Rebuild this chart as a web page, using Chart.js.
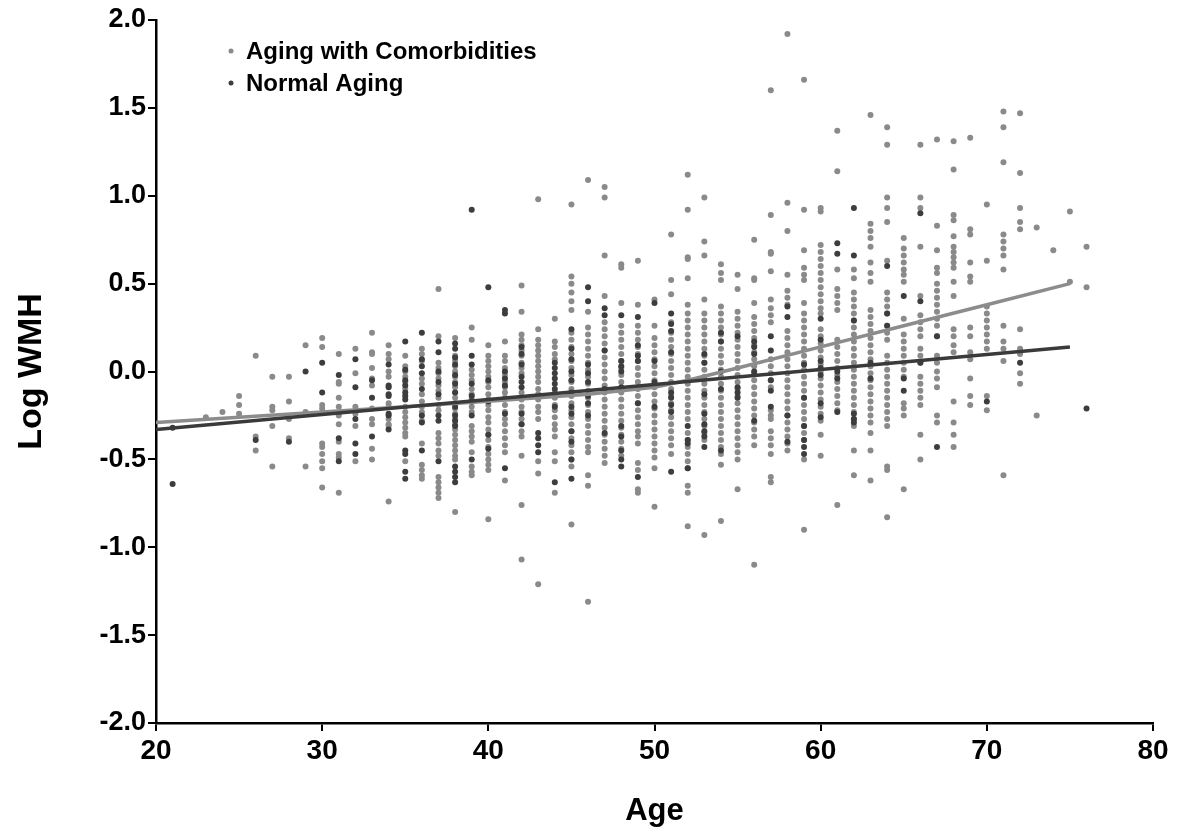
<!DOCTYPE html>
<html>
<head>
<meta charset="utf-8">
<title>Log WMH by Age</title>
<script src="https://cdn.jsdelivr.net/npm/chart.js@4.4.1/dist/chart.umd.min.js"></script>
<style>
    body { margin: 0; background: #fff; }
    canvas { display: block; }
</style>
</head>
<body>
<canvas id="wmhChart" width="1185" height="833"></canvas>
<script>
// Series labels
const seriesLabels = ['Aging with Comorbidities', 'Normal Aging'];

// Axis ticks
const xTicks = [20, 30, 40, 50, 60, 70, 80];
const yTicks = [-2.0, -1.5, -1.0, -0.5, 0.0, 0.5, 1.0, 1.5, 2.0];

// Aging with comorbidities: [age, log WMH values]
const comorbidColumns = [
    [23, [-0.26]],
    [24, [-0.23]],
    [25, [-0.14, -0.19, -0.24]],
    [26, [0.09, -0.37, -0.45]],
    [27, [-0.03, -0.2, -0.22, -0.31, -0.54]],
    [28, [-0.03, -0.17, -0.27, -0.38]],
    [29, [0.15, -0.23, -0.54]],
    [30, [0.19, 0.14, -0.19, -0.21, -0.41, -0.43, -0.47, -0.51, -0.55, -0.66]],
    [31, [0.10, -0.06, -0.07, -0.15, -0.2, -0.25, -0.3, -0.4, -0.47, -0.49, -0.69]],
    [32, [0.13, -0.01, -0.2, -0.24, -0.31, -0.51]],
    [33, [0.22, 0.11, 0.10, 0.02, -0.04, -0.08, -0.21, -0.27, -0.3, -0.44, -0.5]],
    [34, [0.15, 0.10, 0.07, 0.0, -0.03, -0.18, -0.2, -0.27, -0.3, -0.31, -0.74]],
    [35, [0.09, 0.03, 0.0, -0.03, -0.06, -0.1, -0.2, -0.23, -0.26, -0.29, -0.32, -0.35, -0.37, -0.51]],
    [36, [0.13, 0.1, 0.06, -0.04, -0.07, -0.13, -0.17, -0.2, -0.23, -0.28, -0.41, -0.53, -0.56, -0.59, -0.61]],
    [37, [0.47, 0.2, 0.05, 0.02, -0.01, -0.04, -0.08, -0.11, -0.15, -0.19, -0.22, -0.35, -0.38, -0.41, -0.45, -0.48, -0.6, -0.63, -0.66, -0.69, -0.72]],
    [38, [0.19, 0.09, 0.06, 0.03, 0.0, -0.03, -0.06, -0.09, -0.12, -0.15, -0.18, -0.21, -0.24, -0.27, -0.3, -0.33, -0.36, -0.39, -0.42, -0.45, -0.48, -0.5, -0.8]],
    [39, [0.25, 0.18, 0.01, -0.02, -0.05, -0.1, -0.13, -0.16, -0.2, -0.23, -0.31, -0.34, -0.37, -0.4, -0.46, -0.54, -0.57, -0.59]],
    [40, [0.15, 0.09, 0.06, 0.03, 0.0, -0.03, -0.06, -0.09, -0.13, -0.16, -0.19, -0.22, -0.26, -0.29, -0.33, -0.36, -0.39, -0.43, -0.47, -0.5, -0.53, -0.56, -0.84]],
    [41, [0.17, 0.09, 0.06, 0.02, -0.02, -0.06, -0.09, -0.12, -0.15, -0.19, -0.23, -0.27, -0.3, -0.34, -0.38, -0.42, -0.46, -0.62]],
    [42, [0.49, 0.34, 0.21, 0.18, 0.15, 0.12, 0.09, 0.05, 0.02, -0.01, -0.12, -0.16, -0.2, -0.23, -0.27, -0.3, -0.34, -0.37, -0.48, -0.76, -1.07]],
    [43, [0.98, 0.24, 0.18, 0.15, 0.12, 0.09, 0.06, 0.03, 0.0, -0.03, -0.06, -0.1, -0.13, -0.16, -0.2, -0.23, -0.27, -0.51, -0.58, -1.21]],
    [44, [0.3, 0.17, 0.14, 0.1, 0.07, -0.12, -0.15, -0.19, -0.22, -0.26, -0.3, -0.33, -0.37, -0.46, -0.51, -0.69]],
    [45, [0.95, 0.54, 0.5, 0.45, 0.4, 0.35, 0.22, 0.18, 0.14, 0.1, 0.06, 0.02, -0.02, -0.06, -0.1, -0.14, -0.18, -0.22, -0.26, -0.3, -0.34, -0.38, -0.42, -0.46, -0.5, -0.54, -0.87]],
    [46, [1.09, 0.34, 0.25, 0.21, 0.17, 0.13, 0.09, 0.05, 0.01, -0.03, -0.07, -0.11, -0.15, -0.19, -0.23, -0.27, -0.31, -0.35, -0.39, -0.43, -0.46, -0.59, -0.65, -1.31]],
    [47, [1.05, 0.99, 0.66, 0.43, 0.28, 0.24, 0.2, 0.16, 0.12, 0.08, 0.04, 0.0, -0.04, -0.08, -0.12, -0.16, -0.2, -0.24, -0.28, -0.32, -0.36, -0.4, -0.44, -0.48, -0.52]],
    [48, [0.61, 0.59, 0.39, 0.26, 0.22, 0.18, 0.14, 0.1, 0.06, 0.02, -0.02, -0.06, -0.12, -0.16, -0.2, -0.24, -0.28, -0.32, -0.36, -0.4, -0.44, -0.48]],
    [49, [0.63, 0.38, 0.26, 0.22, 0.18, 0.14, 0.1, 0.06, 0.02, -0.02, -0.06, -0.1, -0.14, -0.18, -0.22, -0.26, -0.3, -0.34, -0.37, -0.41, -0.52, -0.56, -0.67, -0.69]],
    [50, [0.41, 0.26, 0.19, 0.15, 0.11, 0.07, 0.03, -0.01, -0.05, -0.09, -0.13, -0.17, -0.21, -0.25, -0.29, -0.33, -0.37, -0.41, -0.45, -0.49, -0.55, -0.77]],
    [51, [0.78, 0.52, 0.44, 0.28, 0.22, 0.18, 0.14, 0.1, 0.06, 0.02, -0.02, -0.06, -0.1, -0.14, -0.18, -0.22, -0.26, -0.3, -0.34, -0.38, -0.42, -0.47]],
    [52, [1.12, 0.92, 0.65, 0.64, 0.53, 0.38, 0.33, 0.29, 0.25, 0.21, 0.17, 0.13, 0.09, 0.05, 0.01, -0.03, -0.07, -0.11, -0.15, -0.19, -0.23, -0.27, -0.35, -0.39, -0.43, -0.47, -0.51, -0.55, -0.65, -0.69, -0.88]],
    [53, [0.99, 0.74, 0.66, 0.41, 0.33, 0.29, 0.25, 0.21, 0.17, 0.13, 0.09, 0.05, 0.01, -0.03, -0.07, -0.11, -0.15, -0.19, -0.23, -0.27, -0.31, -0.35, -0.39, -0.93]],
    [54, [0.61, 0.56, 0.52, 0.37, 0.33, 0.29, 0.25, 0.21, 0.17, 0.13, 0.09, 0.05, 0.01, -0.03, -0.07, -0.11, -0.15, -0.19, -0.23, -0.27, -0.31, -0.35, -0.39, -0.43, -0.47, -0.53, -0.85]],
    [55, [0.55, 0.47, 0.34, 0.3, 0.26, 0.22, 0.18, 0.14, 0.1, 0.06, 0.02, -0.02, -0.06, -0.1, -0.14, -0.18, -0.22, -0.26, -0.3, -0.34, -0.38, -0.42, -0.46, -0.5, -0.67]],
    [56, [0.75, 0.53, 0.52, 0.39, 0.31, 0.27, 0.23, 0.19, 0.15, 0.11, 0.07, 0.03, -0.01, -0.05, -0.09, -0.13, -0.17, -0.21, -0.25, -0.29, -0.33, -0.37, -0.42, -1.1]],
    [57, [1.6, 0.89, 0.68, 0.67, 0.57, 0.41, 0.36, 0.32, 0.28, 0.07, 0.03, -0.01, -0.05, -0.09, -0.22, -0.25, -0.27, -0.34, -0.38, -0.42, -0.47, -0.6, -0.63]],
    [58, [1.92, 0.96, 0.8, 0.55, 0.46, 0.42, 0.38, 0.23, 0.19, 0.15, 0.11, 0.07, 0.03, -0.01, -0.05, -0.09, -0.13, -0.17, -0.21, -0.25, -0.29, -0.33, -0.37, -0.41, -0.45]],
    [59, [1.66, 0.92, 0.69, 0.59, 0.55, 0.52, 0.39, 0.33, 0.29, 0.25, 0.21, 0.17, 0.13, 0.09, 0.05, 0.01, -0.03, -0.07, -0.11, -0.15, -0.19, -0.23, -0.27, -0.31, -0.35, -0.39, -0.5, -0.9]],
    [60, [0.93, 0.91, 0.72, 0.68, 0.64, 0.6, 0.56, 0.52, 0.48, 0.44, 0.4, 0.36, 0.33, 0.24, 0.2, 0.16, 0.12, 0.08, 0.04, 0.0, -0.04, -0.08, -0.12, -0.16, -0.2, -0.24, -0.28, -0.36, -0.48]],
    [61, [1.37, 1.14, 0.58, 0.47, 0.43, 0.39, 0.35, 0.18, 0.14, 0.1, 0.06, 0.02, -0.02, -0.06, -0.1, -0.14, -0.18, -0.22, -0.76]],
    [62, [0.58, 0.53, 0.45, 0.41, 0.37, 0.33, 0.29, 0.25, 0.21, 0.17, 0.13, 0.09, 0.05, 0.01, -0.03, -0.07, -0.11, -0.15, -0.19, -0.23, -0.27, -0.31, -0.45, -0.59]],
    [63, [1.46, 0.84, 0.8, 0.76, 0.71, 0.62, 0.56, 0.51, 0.35, 0.31, 0.27, 0.23, 0.19, 0.15, 0.11, 0.07, 0.03, -0.01, -0.05, -0.09, -0.13, -0.17, -0.21, -0.25, -0.29, -0.35, -0.45, -0.62]],
    [64, [1.39, 1.29, 0.99, 0.93, 0.85, 0.63, 0.45, 0.41, 0.37, 0.33, 0.26, 0.22, 0.18, 0.09, 0.05, 0.01, -0.03, -0.07, -0.11, -0.15, -0.19, -0.23, -0.27, -0.31, -0.54, -0.56, -0.83]],
    [65, [0.76, 0.7, 0.66, 0.62, 0.58, 0.55, 0.51, 0.3, 0.21, 0.17, 0.13, 0.09, 0.05, 0.01, -0.03, -0.18, -0.21, -0.25, -0.67]],
    [66, [1.29, 0.99, 0.93, 0.71, 0.43, 0.32, 0.28, 0.24, 0.2, 0.13, 0.09, 0.05, -0.03, -0.07, -0.11, -0.15, -0.19, -0.36, -0.5]],
    [67, [1.32, 0.83, 0.69, 0.59, 0.56, 0.5, 0.46, 0.42, 0.38, 0.34, 0.3, 0.26, 0.2, 0.09, 0.05, 0.0, -0.04, -0.09, -0.25, -0.29]],
    [68, [1.31, 1.15, 0.89, 0.86, 0.77, 0.71, 0.68, 0.65, 0.62, 0.59, 0.51, 0.43, 0.24, 0.2, 0.15, 0.11, -0.17, -0.29, -0.36, -0.43]],
    [69, [1.33, 0.81, 0.78, 0.62, 0.54, 0.51, 0.25, 0.2, 0.11, 0.07, -0.04, -0.14, -0.19]],
    [70, [0.95, 0.63, 0.37, 0.33, 0.29, 0.25, 0.21, 0.17, 0.13, -0.14, -0.22]],
    [71, [1.48, 1.39, 1.19, 0.78, 0.74, 0.7, 0.66, 0.58, 0.26, 0.17, 0.13, 0.06, -0.59]],
    [72, [1.47, 1.13, 0.93, 0.85, 0.81, 0.24, 0.13, 0.1, -0.01, -0.07]],
    [73, [0.82, -0.25]],
    [74, [0.69]],
    [75, [0.91, 0.51]],
    [76, [0.71, 0.48]]
];

// Normal aging: [age, log WMH values]
const normalColumns = [
    [21, [-0.64, -0.32]],
    [26, [-0.39]],
    [28, [-0.40]],
    [29, [0.0]],
    [30, [0.05, -0.12]],
    [31, [-0.02, -0.38, -0.51]],
    [32, [0.07, -0.09, -0.27, -0.41, -0.47]],
    [33, [-0.05, -0.15, -0.37]],
    [34, [0.04, -0.08, -0.09, -0.13, -0.14, -0.24, -0.25, -0.33]],
    [35, [0.17, 0.01, -0.05, -0.08, -0.12, -0.14, -0.16, -0.45, -0.47, -0.57, -0.61]],
    [36, [0.22, 0.07, 0.03, -0.01, -0.1, -0.25, -0.29, -0.45]],
    [37, [0.17, 0.11, 0.0, -0.06, -0.13, -0.25, -0.28, -0.51]],
    [38, [0.16, 0.13, 0.08, 0.04, -0.02, -0.07, -0.12, -0.2, -0.25, -0.28, -0.31, -0.54, -0.57, -0.6, -0.63]],
    [39, [0.92, 0.09, 0.04, -0.07, -0.14, -0.17, -0.25, -0.5]],
    [40, [0.48, -0.05, -0.17, -0.36, -0.44]],
    [41, [0.35, 0.33, 0.0, -0.04, -0.08, -0.24, -0.55]],
    [42, [0.14, 0.1, 0.04, -0.03, -0.06, -0.09, -0.24, -0.3]],
    [43, [-0.35, -0.38, -0.42, -0.46]],
    [44, [0.05, 0.02, -0.01, -0.04, -0.07, -0.1, -0.2, -0.63]],
    [45, [0.24, 0.13, 0.07, 0.0, -0.05, -0.12, -0.2, -0.24, -0.34, -0.4, -0.5, -0.61]],
    [46, [0.48, 0.4, 0.04, -0.01, -0.06, -0.14, -0.18, -0.25]],
    [47, [0.36, 0.32, 0.12, -0.1, -0.35]],
    [48, [0.32, 0.06, 0.03, 0.0, -0.09, -0.31, -0.37, -0.45, -0.5, -0.54]],
    [49, [0.31, 0.15, 0.09, 0.06, -0.18, -0.6]],
    [50, [0.39, 0.06, -0.06, -0.2]],
    [51, [0.33, 0.27, 0.23, 0.11, -0.12, -0.15, -0.19, -0.23, -0.57]],
    [52, [-0.31, -0.39, -0.41, -0.55]],
    [53, [0.1, 0.05, -0.13, -0.24, -0.3, -0.34, -0.37, -0.43]],
    [54, [0.22, 0.17, 0.0, -0.1, -0.45]],
    [55, [0.2, -0.09, -0.12, -0.15]],
    [56, [0.17, 0.14, 0.1, 0.0, -0.28]],
    [57, [0.2, 0.12, -0.05, -0.11, -0.2]],
    [58, [0.37, 0.31, -0.25, -0.4]],
    [59, [0.04, -0.15, -0.31, -0.39, -0.43, -0.47]],
    [60, [0.3, 0.18, 0.06, 0.02, -0.02, -0.18, -0.26]],
    [61, [0.73, 0.67, 0.0, -0.04, -0.23]],
    [62, [0.93, 0.66, 0.29, -0.24, -0.27, -0.29]],
    [63, [0.05, -0.04]],
    [64, [0.6, 0.33, 0.26]],
    [65, [0.43, -0.04, -0.11]],
    [66, [0.9, 0.4, 0.05]],
    [67, [0.2, -0.43]],
    [70, [-0.17]],
    [72, [0.05]],
    [76, [-0.21]]
];

// Fitted trend lines
const comorbidTrendAges = [20, 30, 40, 46, 50, 52, 55, 60, 65, 70, 75];
const comorbidTrendValues = [-0.29, -0.23, -0.17, -0.13, -0.09, -0.05, 0.02, 0.14, 0.26, 0.38, 0.5];
const normalTrendAges = [20, 75];
const normalTrendValues = [-0.33, 0.14];

const lightGrey = '#8a8a8a';
const darkGrey = '#3d3d3d';
const fontFamily = '"Liberation Sans", Arial, Helvetica, sans-serif';

function toPoints(columns) {
    return columns.flatMap(([age, values]) => values.map(v => ({ x: age, y: v })));
}

function toLine(ages, values) {
    return ages.map((age, i) => ({ x: age, y: values[i] }));
}

// Legend drawn inside the plot area, top-left
const insideLegend = {
    id: 'insideLegend',
    afterDraw(chart) {
        const { ctx, chartArea } = chart;
        ctx.save();
        ctx.font = 'bold 24px ' + fontFamily;
        ctx.textBaseline = 'middle';
        [0, 1].forEach(i => {
            const ds = chart.data.datasets[i];
            const y = chartArea.top + 31 + i * 32;
            ctx.fillStyle = ds.backgroundColor;
            ctx.beginPath();
            ctx.arc(chartArea.left + 75, y, 2.5, 0, Math.PI * 2);
            ctx.fill();
            ctx.fillStyle = '#000';
            ctx.fillText(ds.label, chartArea.left + 90, y + 1);
        });
        ctx.restore();
    }
};

const ctx = document.getElementById('wmhChart').getContext('2d');
const wmhChart = new Chart(ctx, {
    type: 'scatter',
    data: {
        datasets: [
            {
                label: seriesLabels[0],
                data: toPoints(comorbidColumns),
                backgroundColor: lightGrey,
                borderWidth: 0,
                pointRadius: 3,
                order: 3
            },
            {
                label: seriesLabels[1],
                data: toPoints(normalColumns),
                backgroundColor: darkGrey,
                borderWidth: 0,
                pointRadius: 3,
                order: 2
            },
            {
                label: seriesLabels[0] + ' fit',
                data: toLine(comorbidTrendAges, comorbidTrendValues),
                showLine: true,
                borderColor: '#8c8c8c',
                borderWidth: 3.5,
                pointRadius: 0,
                order: 1
            },
            {
                label: seriesLabels[1] + ' fit',
                data: toLine(normalTrendAges, normalTrendValues),
                showLine: true,
                borderColor: '#3a3a3a',
                borderWidth: 3.5,
                pointRadius: 0,
                order: 0
            }
        ]
    },
    options: {
        responsive: false,
        animation: false,
        layout: {
            padding: { top: 20, right: 32, left: 0, bottom: 0 }
        },
        plugins: {
            legend: { display: false },
            tooltip: { enabled: false }
        },
        scales: {
            x: {
                type: 'linear',
                min: xTicks[0],
                max: xTicks[xTicks.length - 1],
                afterFit: scale => { scale.height = 110; },
                afterBuildTicks: scale => { scale.ticks = xTicks.map(v => ({ value: v })); },
                grid: { drawOnChartArea: false, color: '#000', lineWidth: 2, tickLength: 8 },
                border: { color: '#000', width: 2.5 },
                ticks: {
                    color: '#000',
                    padding: 3,
                    font: { family: fontFamily, size: 28, weight: 'bold' }
                },
                title: {
                    display: true,
                    text: 'Age',
                    color: '#000',
                    padding: { top: 0, bottom: 3 },
                    font: { family: fontFamily, size: 31, weight: 'bold' }
                }
            },
            y: {
                type: 'linear',
                min: yTicks[0],
                max: yTicks[yTicks.length - 1],
                afterFit: scale => { scale.width = 156; },
                afterBuildTicks: scale => { scale.ticks = yTicks.map(v => ({ value: v })); },
                grid: { drawOnChartArea: false, color: '#000', lineWidth: 2, tickLength: 8 },
                border: { color: '#000', width: 2.5 },
                ticks: {
                    color: '#000',
                    padding: 2,
                    font: { family: fontFamily, size: 27, weight: 'bold' },
                    callback: v => v.toFixed(1)
                },
                title: {
                    display: true,
                    text: 'Log WMH',
                    color: '#000',
                    padding: { top: 11, bottom: 0 },
                    font: { family: fontFamily, size: 34, weight: 'bold' }
                }
            }
        }
    },
    plugins: [insideLegend]
});
</script>
</body>
</html>
